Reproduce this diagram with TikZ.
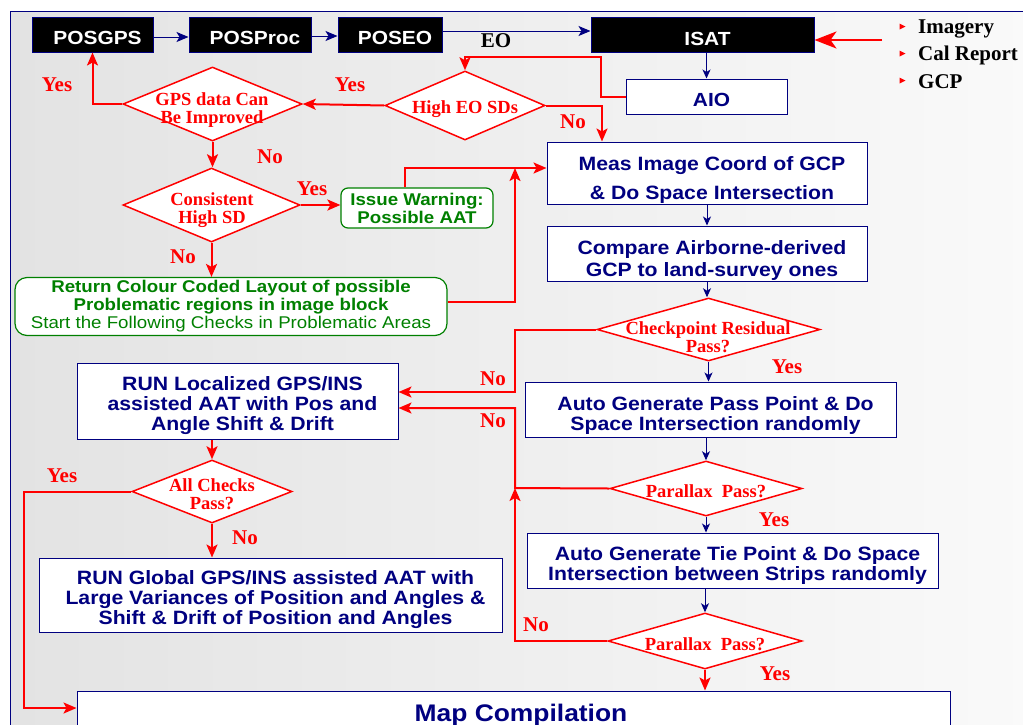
\documentclass[tikz,border=0pt]{standalone}
\usepackage{fontspec}
\setmainfont{Liberation Serif}
\newfontfamily\boxfont{Liberation Sans}[FakeStretch=1.1]
\usetikzlibrary{shapes.geometric,arrows.meta}
\definecolor{navy}{RGB}{0,0,128}
\definecolor{dgreen}{RGB}{0,128,0}
\begin{document}
\begin{tikzpicture}[x=1pt,y=-1pt,
 boxbase/.style={rectangle, draw=navy, line width=1pt, inner sep=0pt},
 blackbox/.style={boxbase, fill=black},
 bluebox/.style={boxbase, fill=white},
 wtext/.style={text=white, font=\boxfont\bfseries\fontsize{19}{22}\selectfont, inner sep=0pt, xshift=5pt, yshift=-3pt},
 btext/.style={text=navy, align=center, font=\boxfont\bfseries\fontsize{19.3}{20}\selectfont, inner sep=0pt, xshift=5pt},
 greenbox/.style={rectangle, draw=dgreen, line width=1.2pt, fill=white, text=dgreen, inner sep=0pt, align=center, font=\boxfont\fontsize{17}{18}\selectfont},
 dia/.style={diamond, draw=red, fill=white, line width=1.5pt, inner sep=0pt},
 diatxt/.style={text=red, align=center, font=\bfseries\fontsize{18.5}{18}\selectfont, inner sep=0pt},
 lbl/.style={text=red, font=\bfseries\fontsize{21}{21}\selectfont, inner sep=0pt},
 legtxt/.style={text=black, anchor=base west, font=\bfseries\fontsize{21}{21}\selectfont, inner sep=0pt},
 navyarr/.style={draw=navy, line width=1pt, -{Stealth[length=12pt,width=10pt,inset=3pt]}},
 navysm/.style={draw=navy, line width=1pt, -{Stealth[length=9pt,width=8pt,inset=2.5pt]}},
 redarr/.style={draw=red, line width=2pt, -{Stealth[length=13pt,width=11pt,inset=3pt]}},
 redbig/.style={draw=red, line width=2.4pt, -{Stealth[length=22pt,width=17pt,inset=6pt]}},
]
\useasboundingbox (0,0) rectangle (1023,724);
\clip (0,0) rectangle (1023,724);
% background and frame
\fill[white] (0,0) rectangle (1023,724);
\fill[left color=black!11, right color=black!2] (10,11) rectangle (1030,730);
\draw[navy, line width=0.8pt] (10,740) -- (10,11) -- (1030,11);

% top row
\node[blackbox, minimum width=121pt, minimum height=35pt, label={[name=POSGPSt, wtext]center:{POSGPS}}] (POSGPS) at (92.5,34.5) {};
\node[blackbox, minimum width=122pt, minimum height=35pt, label={[name=POSProct, wtext]center:{POSProc}}] (POSProc) at (250,34.5) {};
\node[blackbox, minimum width=104pt, minimum height=35pt, label={[name=POSEOt, wtext]center:{POSEO}}] (POSEO) at (390,34.5) {};
\node[blackbox, minimum width=223pt, minimum height=35pt, label={[name=ISATt, wtext, yshift=-1pt]center:{ISAT}}] (ISAT) at (702.5,34.5) {};
\node[bluebox, minimum width=161pt, minimum height=35pt, label={[name=AIOt, btext, yshift=-3pt, font=\boxfont\bfseries\fontsize{19}{22}\selectfont]center:{AIO}}] (AIO) at (706.5,96.5) {};

% right column boxes
\node[bluebox, minimum width=320pt, minimum height=62pt, label={[name=Meast, btext, yshift=-7pt, font=\boxfont\bfseries\fontsize{19.3}{29}\selectfont]center:{Meas Image Coord of GCP\\\& Do Space Intersection}}] (Meas) at (707,173) {};
\node[bluebox, minimum width=320pt, minimum height=55pt, label={[name=Comparet, btext, yshift=-7pt, font=\boxfont\bfseries\fontsize{19.3}{22}\selectfont]center:{Compare Airborne-derived\\GCP to land-survey ones}}] (Compare) at (707,253.5) {};
\node[bluebox, minimum width=371pt, minimum height=55pt, label={[name=AutoPasst, btext, yshift=-6pt]center:{Auto Generate Pass Point \& Do\\Space Intersection randomly}}] (AutoPass) at (710.5,409.5) {};
\node[bluebox, minimum width=411pt, minimum height=55pt, label={[name=Tiet, btext, yshift=-5pt]center:{Auto Generate Tie Point \& Do Space\\Intersection between Strips randomly}}] (Tie) at (732.5,560.5) {};

% left column boxes
\node[bluebox, minimum width=321pt, minimum height=76pt, label={[name=RUNLoct, btext, yshift=-5pt]center:{RUN Localized GPS/INS\\assisted AAT with Pos and\\Angle Shift \& Drift}}] (RUNLoc) at (237.5,401) {};
\node[bluebox, minimum width=463pt, minimum height=74pt, label={[name=RUNGlobt, btext, yshift=-5pt]center:{RUN Global GPS/INS assisted AAT with\\Large Variances of Position and Angles \&\\Shift \& Drift of Position and Angles}}] (RUNGlob) at (270.5,595) {};
\node[bluebox, minimum width=873pt, minimum height=46pt, label={[name=Mapt, btext, xshift=2.5pt, yshift=-1pt, font=\boxfont\bfseries\fontsize{24}{26}\selectfont]center:{Map Compilation}}] (Map) at (513.5,714) {};

% green boxes
\node[greenbox, rounded corners=7pt, minimum width=152pt, minimum height=40pt, font=\boxfont\bfseries\fontsize{17}{18}\selectfont] (Issue) at (417,208) {Issue Warning:\\Possible AAT};
\node[greenbox, rounded corners=12pt, minimum width=432pt, minimum height=58pt] (Return) at (231,306.5) {\bfseries Return Colour Coded Layout of possible\\\bfseries Problematic regions in image block\\Start the Following Checks in Problematic Areas};

% diamonds
\node[dia, minimum width=160pt, minimum height=69pt] (HighEO) at (465,105.5) {};
\node[diatxt] (HighEOt) at (465,109.5) {High EO SDs};
\node[dia, minimum width=179pt, minimum height=74pt] (GPS) at (212.5,104) {};
\node[diatxt] (GPSt) at (212,110) {GPS data Can\\Be Improved};
\node[dia, minimum width=177pt, minimum height=74pt] (Cons) at (211.5,205) {};
\node[diatxt] (Const) at (212,210) {Consistent\\High SD};
\node[dia, minimum width=160pt, minimum height=63pt] (AllC) at (212,491.5) {};
\node[diatxt] (AllCt) at (212,494) {All Checks\\Pass?};
\node[dia, minimum width=223pt, minimum height=63pt] (Chk) at (708.5,329.5) {};
\node[diatxt] (Chkt) at (708,337) {Checkpoint Residual\\Pass?};
\node[dia, minimum width=192pt, minimum height=55pt] (Par1) at (706,488.5) {};
\node[diatxt] (Par1t) at (706,491) {Parallax\ \ Pass?};
\node[dia, minimum width=194pt, minimum height=56pt] (Par2) at (705,641) {};
\node[diatxt] (Par2t) at (705,644) {Parallax\ \ Pass?};

% legend
\node[legtxt] (leg1) at (918,33) {Imagery};
\node[legtxt] (leg2) at (918,60) {Cal Report};
\node[legtxt] (leg3) at (918,88) {GCP};
\fill[red] (899.5,23.5) -- (905.5,26.5) -- (899.5,29.5) -- cycle;
\fill[red] (899.5,50.5) -- (905.5,53.5) -- (899.5,56.5) -- cycle;
\fill[red] (899.5,77.5) -- (905.5,80.5) -- (899.5,83.5) -- cycle;
\node[text=black, font=\bfseries\fontsize{21}{21}\selectfont, inner sep=0pt] (EO) at (496,41) {EO};

% junction coordinates
\coordinate (inp) at (882,40);
\coordinate (c1) at (601,57);
\coordinate (j1) at (515,168);
\coordinate (j2) at (515,392);
\coordinate (j3) at (515,488);
\coordinate (j4) at (515,408);
\coordinate (j5) at (24,708);

% navy connectors
\draw[navyarr] ([yshift=-2.5pt]POSGPS.east) -- ([yshift=-2.5pt]POSProc.west);
\draw[navyarr] ([yshift=-1.5pt]POSProc.east) -- ([yshift=-1.5pt]POSEO.west);
\draw[navyarr] ([yshift=3.5pt]POSEO.east) -- ([yshift=3.5pt]ISAT.west);
\draw[navysm] (AIO.north |- ISAT.south) -- (AIO.north);
\draw[navysm] (Meas.south) -- (Compare.north);
\draw[navysm] (Compare.south) -- (Compare.south |- Chk.north);
\draw[navysm] (Chk.south) -- (Chk.south |- AutoPass.north);
\draw[navysm] (Par1.north |- AutoPass.south) -- (Par1.north);
\draw[navysm] (Par1.south) -- (Par1.south |- Tie.north);
\draw[navysm] (Par2.north |- Tie.south) -- (Par2.north);

% red connectors
\draw[redbig] (inp) -- (inp -| ISAT.east);
\draw[redarr] (AIO.west) -| (c1) -| (HighEO.north);
\draw[redarr] (HighEO.east) -| ([xshift=-105pt]Meas.north);
\draw[redarr] (HighEO.west) -- (GPS.east);
\draw[redarr] (GPS.west) -| (POSGPS.south);
\draw[redarr] (GPS.south) -- (GPS.south |- Cons.north);
\draw[redarr] (Cons.east) -- (Cons.east -| Issue.west);
\draw[redarr] ([xshift=-12pt]Issue.north) |- ([yshift=5pt]Meas.west);
\draw[redarr] ([yshift=4.5pt]Return.east) -| (j1);
\draw[redarr] (Cons.south) -- (Cons.south |- Return.north);
\draw[redarr] (Chk.west) -| (j2) -- (j2 -| RUNLoc.east);
\draw[redarr] (Par1.west) -- (j3) -- (j4) -- (j4 -| RUNLoc.east);
\draw[redarr] (Par2.west) -| (j3);
\draw[redarr] (Par2.south) -- (Par2.south |- Map.north);
\draw[redarr] (AllC.north |- RUNLoc.south) -- (AllC.north);
\draw[redarr] (AllC.west) -| (j5) -- (j5 -| Map.west);
\draw[redarr] (AllC.south) -- (AllC.south |- RUNGlob.north);

% labels
\node[lbl] (yes1) at (57,85) {Yes};
\node[lbl] (yes2) at (350,85) {Yes};
\node[lbl] (no1) at (573,122) {No};
\node[lbl] (no2) at (270,157) {No};
\node[lbl] (yes3) at (312,189) {Yes};
\node[lbl] (no3) at (183,257) {No};
\node[lbl] (no4) at (493,379) {No};
\node[lbl] (no5) at (493,421) {No};
\node[lbl] (yes4) at (787,367) {Yes};
\node[lbl] (yes5) at (774,520) {Yes};
\node[lbl] (no6) at (536,625) {No};
\node[lbl] (yes6) at (775,674) {Yes};
\node[lbl] (yes7) at (62,476) {Yes};
\node[lbl] (no7) at (245,538) {No};
\end{tikzpicture}
\end{document}
